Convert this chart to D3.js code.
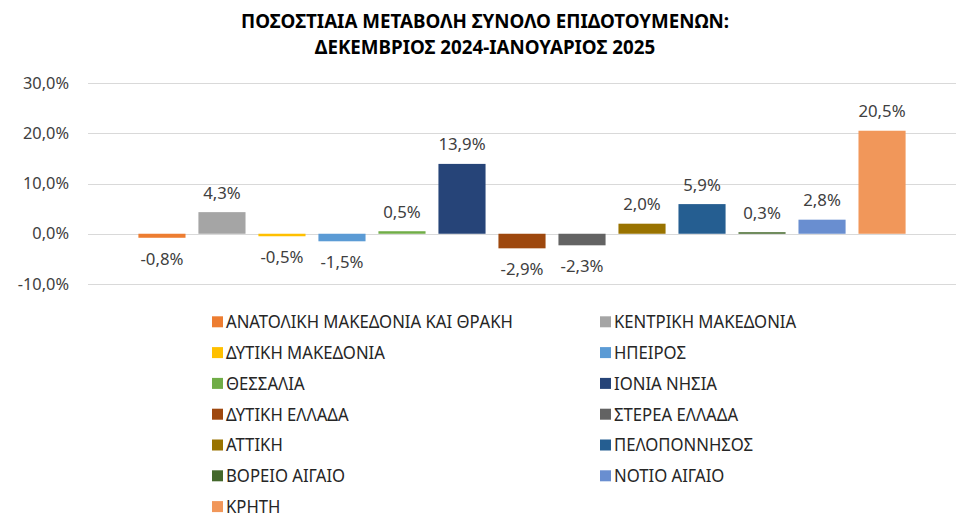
<!DOCTYPE html>
<html>
<head>
<meta charset="utf-8">
<script src="https://cdn.jsdelivr.net/npm/d3@7"></script>
<style>
  html, body { margin: 0; padding: 0; background: #fff; }
  svg { display: block; }
</style>
</head>
<body>
<svg id="chart" width="959" height="515"></svg>
<script>
// ---- Data ----
const titleLines = ["ΠΟΣΟΣΤΙΑΙΑ ΜΕΤΑΒΟΛΗ ΣΥΝΟΛΟ ΕΠΙΔΟΤΟΥΜΕΝΩΝ:", "ΔΕΚΕΜΒΡΙΟΣ 2024-ΙΑΝΟΥΑΡΙΟΣ 2025"];
const regions = [
  "ΑΝΑΤΟΛΙΚΗ ΜΑΚΕΔΟΝΙΑ ΚΑΙ ΘΡΑΚΗ", "ΚΕΝΤΡΙΚΗ ΜΑΚΕΔΟΝΙΑ", "ΔΥΤΙΚΗ ΜΑΚΕΔΟΝΙΑ", "ΗΠΕΙΡΟΣ",
  "ΘΕΣΣΑΛΙΑ", "ΙΟΝΙΑ ΝΗΣΙΑ", "ΔΥΤΙΚΗ ΕΛΛΑΔΑ", "ΣΤΕΡΕΑ ΕΛΛΑΔΑ", "ΑΤΤΙΚΗ",
  "ΠΕΛΟΠΟΝΝΗΣΟΣ", "ΒΟΡΕΙΟ ΑΙΓΑΙΟ", "ΝΟΤΙΟ ΑΙΓΑΙΟ", "ΚΡΗΤΗ"
];
const changes = [-0.8, 4.3, -0.5, -1.5, 0.5, 13.9, -2.9, -2.3, 2.0, 5.9, 0.3, 2.8, 20.5];
const colors = [
  "#ED7D31", "#A5A5A5", "#FFC000", "#5B9BD5", "#70AD47", "#264478", "#9E480E",
  "#636363", "#997300", "#255E91", "#43682B", "#698ED0", "#F1975A"
];
const yTicks = [-10, 0, 10, 20, 30];

// ---- Layout ----
const svg = d3.select("#chart");
const FONT = "'Noto Sans', 'Open Sans', sans-serif";
const plot = { left: 88, right: 956, top: 83, bottom: 284 };

const fmt = v => d3.format(".1f")(v).replace("−", "-").replace(".", ",") + "%";

function measure(text, size, weight) {
  const t = svg.append("text").attr("font-family", FONT).attr("font-weight", weight)
    .attr("font-size", size).text(text);
  const w = t.node().getComputedTextLength();
  t.remove();
  return w;
}
// condense texts horizontally so that a reference string reaches its target width
function condense(sel, size, weight, refText, refWidth) {
  const k = refWidth / measure(refText, size, weight);
  sel.attr("font-family", FONT).attr("font-weight", weight).attr("font-size", size)
    .each(function () {
      const w = this.getComputedTextLength();
      d3.select(this).attr("textLength", w * k).attr("lengthAdjust", "spacingAndGlyphs");
    });
}

const y = d3.scaleLinear().domain([-10, 30]).range([plot.bottom, plot.top]);
const x = d3.scaleBand().domain(regions).range([plot.left, plot.right])
  .paddingInner(0.215).paddingOuter(0.84);

// Title
const tt = svg.append("g").selectAll("text").data(titleLines).join("text")
  .attr("x", 485).attr("y", (d, i) => 28 + i * 25.5)
  .attr("text-anchor", "middle").attr("fill", "#000")
  .text(d => d);
condense(tt, 20, "bold", titleLines[0], 488);

// Gridlines
svg.append("g").selectAll("line").data(yTicks).join("line")
  .attr("x1", plot.left).attr("x2", plot.right)
  .attr("y1", d => Math.round(y(d)) + 0.5).attr("y2", d => Math.round(y(d)) + 0.5)
  .attr("stroke", "#D9D9D9").attr("stroke-width", 1);

// Y axis labels
const yAxis = d3.axisLeft(y).tickValues(yTicks).tickFormat(fmt).tickSize(0).tickPadding(0);
const gy = svg.append("g").attr("transform", "translate(69,0)").call(yAxis);
gy.select(".domain").remove();
const yt = gy.selectAll("text").attr("fill", "#404040");
condense(yt, 16, "normal", "30,0%", 46);

// Bars
svg.append("g").selectAll("rect").data(regions).join("rect")
  .attr("x", d => x(d))
  .attr("width", x.bandwidth())
  .attr("y", (d, i) => y(Math.max(0, changes[i])))
  .attr("height", (d, i) => Math.abs(y(changes[i]) - y(0)))
  .attr("fill", (d, i) => colors[i]);

// Data labels
const dl = svg.append("g").selectAll("text").data(regions).join("text")
  .attr("x", d => x(d) + x.bandwidth() / 2)
  .attr("y", (d, i) => changes[i] >= 0 ? y(changes[i]) - 13.5 : y(changes[i]) + 27)
  .attr("text-anchor", "middle").attr("fill", "#404040")
  .text((d, i) => fmt(changes[i]));
condense(dl, 16, "normal", "-0,8%", 43);

// Legend
const legCols = [212, 600];
const legTop = 321.8, legStep = 30.8;
const leg = svg.append("g").selectAll("g").data(regions).join("g")
  .attr("transform", (d, i) => `translate(${legCols[i % 2]},${legTop + Math.floor(i / 2) * legStep})`);
leg.append("rect").attr("x", 0).attr("y", -5.5).attr("width", 11).attr("height", 11)
  .attr("fill", (d, i) => colors[i]);
const lt = leg.append("text").attr("x", 14).attr("y", 0).attr("dy", "0.36em")
  .attr("fill", "#262626").text(d => d);
condense(lt, 18, "normal", regions[0], 287);
</script>
</body>
</html>
